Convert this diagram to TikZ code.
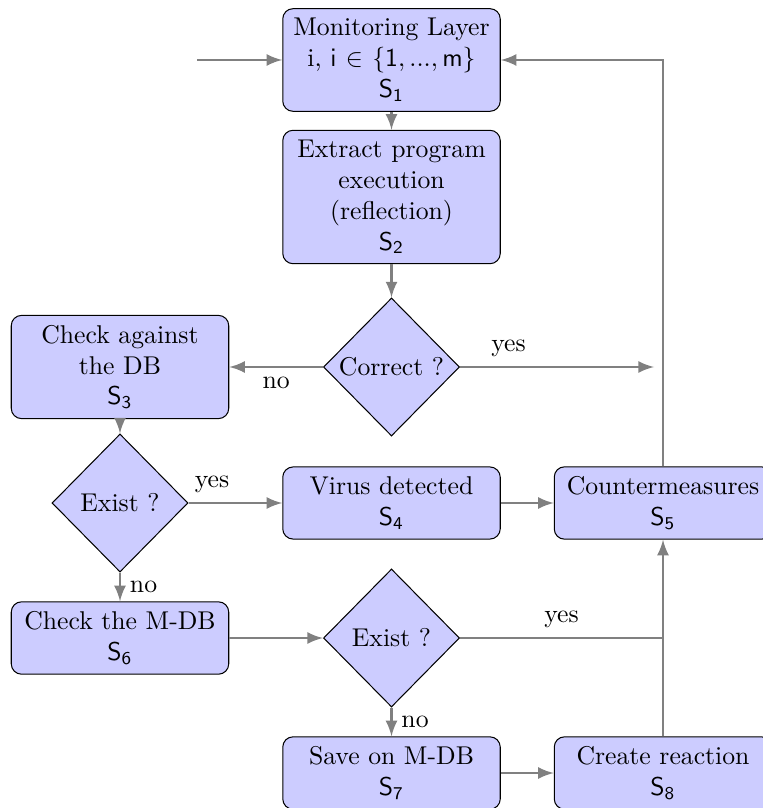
\documentclass[tikz,border=0pt]{standalone}
\usetikzlibrary{shapes.geometric}

\tikzset{
	block/.style={rectangle, draw, fill=blue!20, text width=78pt, align=center, rounded corners=4pt, inner xsep=3.3pt, inner ysep=3.8pt},
	decision/.style={diamond, draw, fill=blue!20, aspect=1, inner sep=0pt, minimum width=52.9pt, minimum height=53.7pt, align=center},
	line/.style={draw, gray, line width=1.1pt, -latex},
	plain/.style={draw, gray, line width=1.1pt},
	label/.style={text=black}
}

\begin{document}
\begin{tikzpicture}[x=0.389pt, y=-0.389pt]
		\useasboundingbox (0,0) rectangle (762,808);
		
		%blocks
		\node[block] (mon) at (391.5,60) {Monitoring Layer\\ i, $\mathsf{i} \in \{\mathsf{1, ..., m}\}$\\ $\mathsf{S_1}$};
		\node[block] (extract) at (391.5,197) {Extract program\\ execution\\ (reflection)\\ $\mathsf{S_2}$};
		\node[block] (checkdb) at (120,367) {Check against the DB\\ $\mathsf{S_3}$};
		\node[block] (virus) at (391.5,503) {Virus detected\\ $\mathsf{S_4}$};
		\node[block] (counter) at (663,503) {Countermeasures\\ $\mathsf{S_5}$};
		\node[block] (checkmdb) at (120,638) {Check the M-DB\\ $\mathsf{S_6}$};
		\node[block] (save) at (391.5,773) {Save on M-DB\\ $\mathsf{S_7}$};
		\node[block] (react) at (663,773) {Create reaction\\ $\mathsf{S_8}$};
		
		%decisions
		\node[decision] (correct) at (391.5,367) {Correct ?};
		\node[decision] (existdb) at (120,503) {Exist ?};
		\node[decision] (existmdb) at (391.5,638) {Exist ?};
		
		%free ends
		\coordinate (start) at (197,60);
		\coordinate (yesend) at (654,367);
		\coordinate (join) at (663,638);
		
		%connectors
		\path[line] (start) -- (mon);
		\path[line] (mon) -- (extract);
		\path[line] (extract) -- (correct);
		\path[line] (correct) -- node[label, below] {no} (checkdb);
		\path[line] (correct) -- node[label, above, pos=.25] {yes} (yesend);
		\path[line] (checkdb) -- (existdb);
		\path[line] (existdb) -- node[label, above, pos=.25] {yes} (virus);
		\path[line] (existdb) -- node[label, right] {no} (checkmdb);
		\path[line] (virus) -- (counter);
		\path[line] (counter) |- (mon);
		\path[line] (checkmdb) -- (existmdb);
		\path[plain] (existmdb) -- node[label, above] {yes} (join);
		\path[line] (existmdb) -- node[label, right] {no} (save);
		\path[line] (save) -- (react);
		\path[line] (react) -- (counter);
		
\end{tikzpicture}
\end{document}
